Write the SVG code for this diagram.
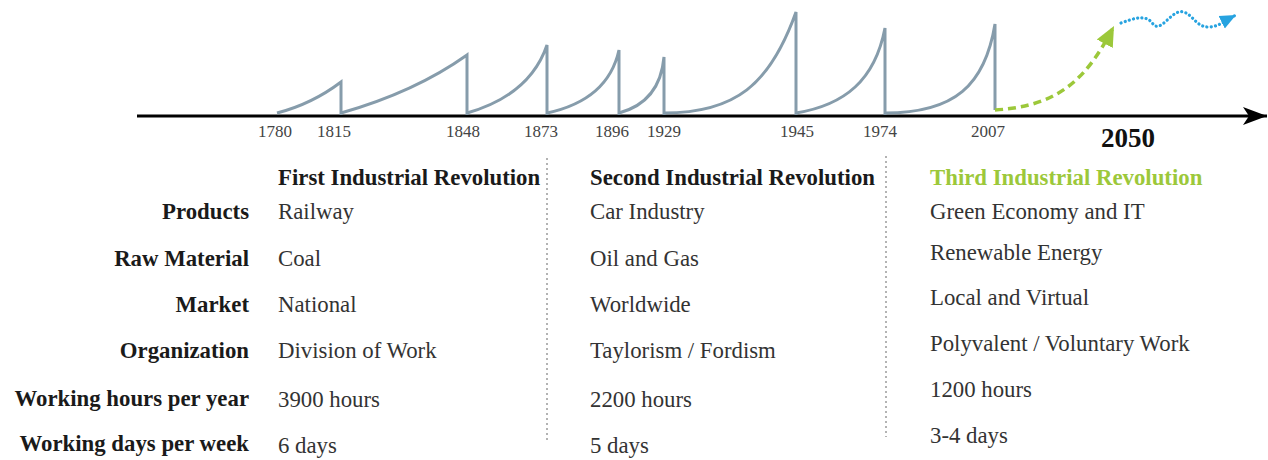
<svg xmlns="http://www.w3.org/2000/svg" width="1268" height="460" viewBox="0 0 1268 460">
<defs>
<style>
.t{font-family:"Liberation Serif","Times New Roman",serif;font-size:22.8px;fill:#333}
.b{font-weight:bold;fill:#1a1a1a}
.lab{text-anchor:end}
.yr{font-family:"Liberation Serif","Times New Roman",serif;font-size:17px;fill:#444;text-anchor:middle}
.wave{fill:none;stroke:#869cab;stroke-width:3;stroke-linejoin:miter}
.sep{stroke:#9a9a9a;stroke-width:1.5;stroke-dasharray:2 3}
</style>
<marker id="axArrow" markerWidth="26" markerHeight="20" refX="24" refY="10" orient="auto" markerUnits="userSpaceOnUse">
<path d="M0,1 L24,10 L0,19 L6,10 Z" fill="#000"/>
</marker>
<marker id="gArrow" markerWidth="24" markerHeight="22" refX="20" refY="11" orient="auto" markerUnits="userSpaceOnUse">
<path d="M0,2 L20,11 L0,20 Z" fill="#9cc83a"/>
</marker>
<marker id="bArrow" markerWidth="20" markerHeight="18" refX="16" refY="9" orient="auto" markerUnits="userSpaceOnUse">
<path d="M0,2 L16,9 L0,16 Z" fill="#27a3e0"/>
</marker>
</defs>
<rect width="1268" height="460" fill="#fff"/>

<g id="connectors">
<line id="axis" x1="137" y1="116" x2="1267" y2="116" stroke="#000" stroke-width="3" marker-end="url(#axArrow)"/>
<path id="wave-1" class="wave" d="M277,113 Q312,104 341,82 L341,115"/>
<path id="wave-2" class="wave" d="M341,113 Q415,92 467,55 L467,115"/>
<path id="wave-3" class="wave" d="M467,113 Q530,95 547,45 L547,115"/>
<path id="wave-4" class="wave" d="M547,113 Q608,100 619,50 L619,115"/>
<path id="wave-5" class="wave" d="M619,113 Q660,102 664,57 L664,115"/>
<path id="wave-6" class="wave" d="M664,113 C735,113 770,85 796,12 L796,115"/>
<path id="wave-7" class="wave" d="M796,113 C845,105 875,80 885,28 L885,115"/>
<path id="wave-8" class="wave" d="M885,113 C955,113 985,85 995,24 L995,110"/>
<path id="future-green" d="M995,110 C1062,106 1088,76 1114,26" fill="none" stroke="#9cc83a" stroke-width="3.5" stroke-dasharray="8 5" marker-end="url(#gArrow)"/>
<path id="future-blue" d="M1121,23 C1135,18 1146,14 1153,24 C1161,34 1172,8 1184,12 C1194,16 1197,28 1210,27 C1220,26 1226,20 1236,15" fill="none" stroke="#27a3e0" stroke-width="3.2" stroke-dasharray="0.1 4.2" stroke-linecap="round" marker-end="url(#bArrow)"/>
<line id="sep-1" class="sep" x1="547" y1="158" x2="547" y2="440"/>
<line id="sep-2" class="sep" x1="886" y1="156" x2="886" y2="437"/>
</g>

<g id="years">
<text class="yr" x="275" y="137">1780</text>
<text class="yr" x="334" y="137">1815</text>
<text class="yr" x="463" y="137">1848</text>
<text class="yr" x="541" y="137">1873</text>
<text class="yr" x="612" y="137">1896</text>
<text class="yr" x="664" y="137">1929</text>
<text class="yr" x="797" y="137">1945</text>
<text class="yr" x="880" y="137">1974</text>
<text class="yr" x="988" y="137">2007</text>
<text x="1128" y="147" font-family="Liberation Serif, Times New Roman, serif" font-size="27" font-weight="bold" fill="#111" text-anchor="middle">2050</text>
</g>

<g id="row-labels">
<text class="t b lab" x="249" y="219">Products</text>
<text class="t b lab" x="249" y="266">Raw Material</text>
<text class="t b lab" x="249" y="312">Market</text>
<text class="t b lab" x="249" y="358">Organization</text>
<text class="t b lab" x="249" y="406">Working hours per year</text>
<text class="t b lab" x="249" y="451">Working days per week</text>
</g>

<g id="first-revolution">
<text class="t b" x="278" y="185">First Industrial Revolution</text>
<text class="t" x="278" y="219">Railway</text>
<text class="t" x="278" y="266">Coal</text>
<text class="t" x="278" y="312">National</text>
<text class="t" x="278" y="358">Division of Work</text>
<text class="t" x="278" y="407">3900 hours</text>
<text class="t" x="278" y="453">6 days</text>
</g>

<g id="second-revolution">
<text class="t b" x="590" y="185">Second Industrial Revolution</text>
<text class="t" x="590" y="219">Car Industry</text>
<text class="t" x="590" y="266">Oil and Gas</text>
<text class="t" x="590" y="312">Worldwide</text>
<text class="t" x="590" y="358">Taylorism / Fordism</text>
<text class="t" x="590" y="407">2200 hours</text>
<text class="t" x="590" y="453">5 days</text>
</g>

<g id="third-revolution">
<text class="t b" x="930" y="185" style="fill:#9cc83a">Third Industrial Revolution</text>
<text class="t" x="930" y="219">Green Economy and IT</text>
<text class="t" x="930" y="260">Renewable Energy</text>
<text class="t" x="930" y="305">Local and Virtual</text>
<text class="t" x="930" y="351">Polyvalent / Voluntary Work</text>
<text class="t" x="930" y="397">1200 hours</text>
<text class="t" x="930" y="443">3-4 days</text>
</g>
</svg>
